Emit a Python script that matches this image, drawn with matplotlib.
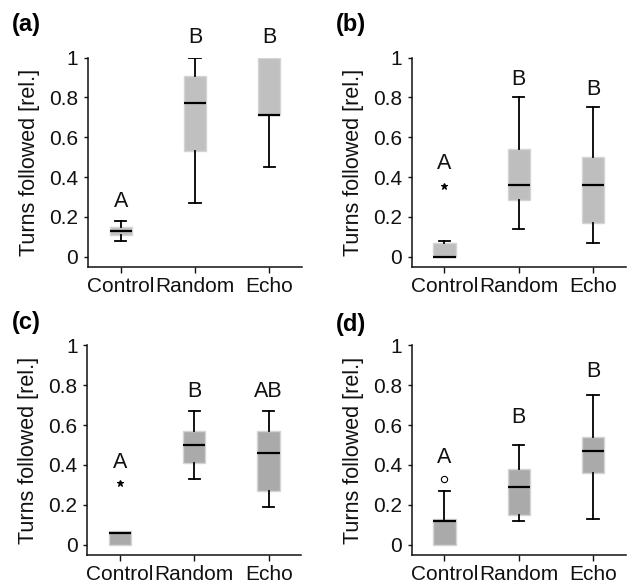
import matplotlib
matplotlib.use('Agg')
import matplotlib.pyplot as plt

plt.rcParams['font.family'] = ['Liberation Sans', 'DejaVu Sans']

groups = ['Control', 'Random', 'Echo']
panels = ['(a)', '(b)', '(c)', '(d)']

# box stats per panel: whislo, q1, median, q3, whishi
whislo = [[0.08, 0.27, 0.45], [0.0, 0.14, 0.07], [0.0, 0.33, 0.19], [0.0, 0.12, 0.13]]
q1 = [[0.11, 0.53, 0.71], [0.0, 0.285, 0.17], [0.0, 0.41, 0.27], [0.0, 0.15, 0.36]]
med = [[0.13, 0.77, 0.71], [0.0, 0.36, 0.36], [0.06, 0.50, 0.46], [0.12, 0.29, 0.47]]
q3 = [[0.15, 0.91, 1.0], [0.07, 0.54, 0.50], [0.07, 0.57, 0.57], [0.13, 0.38, 0.54]]
whishi = [[0.18, 1.0, 1.0], [0.08, 0.80, 0.75], [0.07, 0.67, 0.67], [0.27, 0.50, 0.75]]
outliers = [[[], [], []], [[0.357], [], []], [[0.308], [], []], [[0.33], [], []]]
outlier_marker = ['*', '*', '*', 'o']

letters = [['A', 'B', 'B'], ['A', 'B', 'B'], ['A', 'B', 'AB'], ['A', 'B', 'B']]
letter_y = [[0.275, 1.10, 1.10], [0.47, 0.89, 0.84], [0.41, 0.77, 0.77], [0.437, 0.64, 0.87]]

box_colors = ['#c0c0c0', '#bebebe', '#aaaaaa', '#aaaaaa']

ax_rects = [[0.1373, 0.5451, 0.3339, 0.3566],
            [0.6423, 0.5451, 0.3339, 0.3566],
            [0.1362, 0.0545, 0.3339, 0.3572],
            [0.6423, 0.0545, 0.3339, 0.3572]]
label_pos = [(12, 24), (336, 25), (12, 322), (336, 325)]

fig = plt.figure(figsize=(6.41, 5.87), dpi=100)

for i in range(4):
    ax = fig.add_axes(ax_rects[i])
    stats = []
    for j in range(3):
        stats.append(dict(whislo=whislo[i][j], q1=q1[i][j], med=med[i][j],
                          q3=q3[i][j], whishi=whishi[i][j], fliers=outliers[i][j]))
    res = ax.bxp(stats, positions=[1, 2, 3], widths=0.30, capwidths=0.15,
                 patch_artist=True, showfliers=True,
                 boxprops=dict(facecolor=box_colors[i], edgecolor='#d4d4d4', linewidth=1),
                 medianprops=dict(color='black', linewidth=1.6),
                 whiskerprops=dict(color='black', linewidth=1.3),
                 capprops=dict(color='black', linewidth=1.3),
                 flierprops=dict(marker=outlier_marker[i], markersize=5 if i < 3 else 4.5,
                                 markerfacecolor='black' if i < 3 else 'white',
                                 markeredgecolor='black', markeredgewidth=0.8,
                                 linestyle='none'))
    # hide caps where the whisker has zero length
    for j in range(3):
        if whislo[i][j] == q1[i][j]:
            res['caps'][2 * j].set_visible(False)
        if whishi[i][j] == q3[i][j]:
            res['caps'][2 * j + 1].set_visible(False)

    for j in range(3):
        ax.text(j + 1, letter_y[i][j], letters[i][j], ha='center', va='center',
                fontsize=15.5, color='#111111', clip_on=False)

    ax.set_xlim(0.56, 3.44)
    ax.set_ylim(-0.052, 1.0)
    ax.set_yticks([0, 0.2, 0.4, 0.6, 0.8, 1])
    ax.set_yticklabels(['0', '0.2', '0.4', '0.6', '0.8', '1'])
    ax.set_xticks([1, 2, 3])
    ax.set_xticklabels(groups)
    ax.tick_params(axis='both', labelsize=15, colors='#111111', direction='out')
    ax.tick_params(axis='x', length=4, width=1, pad=3)
    ax.tick_params(axis='y', length=3, width=1, pad=4)
    for s in ['top', 'right']:
        ax.spines[s].set_visible(False)
    for s in ['left', 'bottom']:
        ax.spines[s].set_linewidth(1.1)
        ax.spines[s].set_color('#111111')
    ax.set_ylabel('Turns followed [rel.]', fontsize=15.5, color='#111111')
    ax.yaxis.set_label_coords(-0.225, 0.5)

    fig.text(label_pos[i][0] / 641, 1 - label_pos[i][1] / 587, panels[i],
             fontsize=17, fontweight='bold', ha='left', va='center')

fig.savefig('out.png', dpi=100)
